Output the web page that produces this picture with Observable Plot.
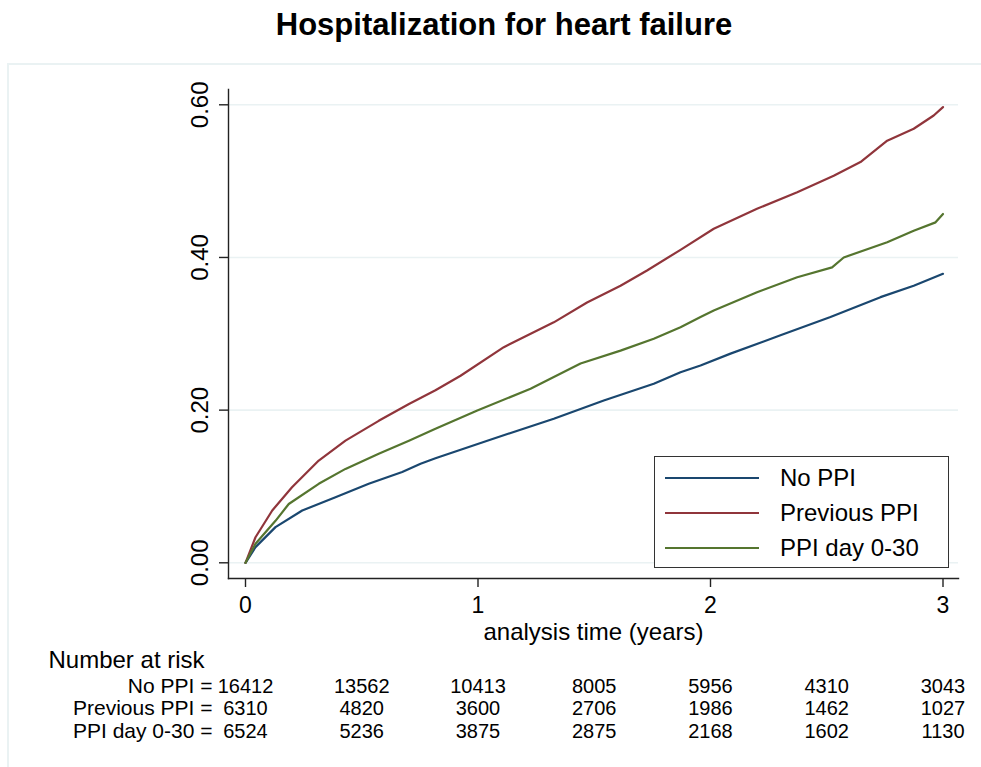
<!DOCTYPE html>
<html>
<head>
<meta charset="utf-8">
<script src="https://cdn.jsdelivr.net/npm/d3@7"></script>
<script src="https://cdn.jsdelivr.net/npm/@observablehq/plot@0.6"></script>
<style>
  html, body { margin: 0; padding: 0; background: #fff; }
  body { width: 981px; height: 767px; position: relative; overflow: hidden; font-family: "Liberation Sans", Arial, sans-serif; }
  #title { position: absolute; top: 1px; left: 0; width: 1008px; height: 48px; line-height: 48px; text-align: center; font-weight: bold; font-size: 31px; color: #000; }
  #outer { position: absolute; left: 7px; top: 63px; width: 990px; height: 720px; border-top: 2px solid #eaf2f3; border-left: 2px solid #eaf2f3; }
  #chart { position: absolute; left: 0; top: 64px; }
  #legend { position: absolute; left: 654px; top: 456px; width: 293px; height: 110px; border: 1.5px solid #333; background: #fff; }
  .item { position: absolute; left: 0; height: 30px; width: 293px; }
  .item .ln { position: absolute; left: 10px; width: 94px; height: 2px; top: 14px; }
  .item .tx { position: absolute; left: 125px; top: 0; line-height: 30px; font-size: 24px; color: #000; white-space: nowrap; }
</style>
</head>
<body>
<div id="title">Hospitalization for heart failure</div>
<div id="outer"></div>
<div id="chart"></div>
<div id="legend"></div>
<script>
// ---- data ----
const groups = ["No PPI", "Previous PPI", "PPI day 0-30"];
const colors = ["#1a476f", "#90353b", "#55752f"];

const noPpiTime  = [0, 0.043, 0.129, 0.244, 0.387, 0.53, 0.674, 0.753, 0.817, 1.04, 1.326, 1.541, 1.756, 1.871, 1.957, 2.086, 2.301, 2.516, 2.731, 2.874, 3.0];
const noPpiValue = [0, 0.0205, 0.0467, 0.0685, 0.086, 0.1035, 0.119, 0.1297, 0.137, 0.160, 0.1887, 0.2126, 0.2345, 0.2497, 0.2585, 0.274, 0.298, 0.322, 0.348, 0.363, 0.3786];

const prevPpiTime  = [0, 0.043, 0.115, 0.2, 0.315, 0.43, 0.573, 0.703, 0.817, 0.925, 1.111, 1.326, 1.469, 1.613, 1.727, 1.871, 2.014, 2.2, 2.373, 2.53, 2.645, 2.76, 2.874, 2.96, 3.0];
const prevPpiValue = [0, 0.0335, 0.0685, 0.099, 0.134, 0.160, 0.186, 0.208, 0.226, 0.245, 0.2825, 0.315, 0.341, 0.363, 0.383, 0.410, 0.4376, 0.4638, 0.4855, 0.507, 0.525, 0.553, 0.5686, 0.586, 0.597];

const earlyPpiTime  = [0, 0.043, 0.129, 0.186, 0.315, 0.43, 0.573, 0.703, 0.817, 0.997, 1.226, 1.441, 1.613, 1.756, 1.871, 1.957, 2.014, 2.2, 2.373, 2.523, 2.573, 2.76, 2.874, 2.968, 3.0];
const earlyPpiValue = [0, 0.025, 0.055, 0.077, 0.1035, 0.123, 0.143, 0.160, 0.1755, 0.1995, 0.228, 0.261, 0.278, 0.2935, 0.3087, 0.322, 0.3305, 0.3545, 0.374, 0.387, 0.400, 0.420, 0.435, 0.446, 0.457];

const xTicks = [0, 1, 2, 3];
const yTicks = [0, 0.2, 0.4, 0.6];

const riskTimes = [0, 0.5, 1, 1.5, 2, 2.5, 3];
const riskNoPpi = [16412, 13562, 10413, 8005, 5956, 4310, 3043];
const riskPrevPpi = [6310, 4820, 3600, 2706, 1986, 1462, 1027];
const riskEarlyPpi = [6524, 5236, 3875, 2875, 2168, 1602, 1130];

const title = "Hospitalization for heart failure";
const xTitle = "analysis time (years)";
const riskTitle = "Number at risk";

// ---- build tables ----
const series = [
  [noPpiTime, noPpiValue],
  [prevPpiTime, prevPpiValue],
  [earlyPpiTime, earlyPpiValue]
];
const curve = series.flatMap(([ts, vs], gi) => ts.map((t, i) => ({group: groups[gi], t, v: vs[i]})));
const riskRows = [riskNoPpi, riskPrevPpi, riskEarlyPpi];
const rowDy = [108, 130, 153];

const axisColor = "#222";

const chart = Plot.plot({
  width: 981,
  height: 703,
  marginLeft: 228,
  marginRight: 23,
  marginTop: 25,
  marginBottom: 189,
  x: {domain: [0, 3], range: [245, 942.5]},
  y: {domain: [0, 0.6], range: [498.3, 40.3]},
  color: {domain: groups, range: colors},
  style: {fontFamily: "'Liberation Sans', Arial, sans-serif", background: "transparent", overflow: "visible", color: "#000"},
  marks: [
    Plot.gridY(yTicks, {stroke: "#eaf2f3", strokeOpacity: 1, strokeWidth: 1.6}),
    Plot.frame({anchor: "left", stroke: axisColor, strokeWidth: 1.4}),
    Plot.frame({anchor: "bottom", stroke: axisColor, strokeWidth: 1.4}),
    Plot.axisY(yTicks, {tickSize: 9, tickFormat: () => "", label: null, stroke: axisColor, strokeWidth: 1.4}),
    Plot.text(yTicks, {y: d => d, text: d => d3.format(".2f")(d), frameAnchor: "left", textAnchor: "middle", lineAnchor: "middle", dx: -28, rotate: -90, fontSize: 24, fill: "#000"}),
    Plot.axisX(xTicks, {tickSize: 9, tickPadding: 9, tickFormat: d3.format("d"), fontSize: 23, label: null, stroke: axisColor, strokeWidth: 1.4, fill: "#000"}),
    Plot.text([xTitle], {text: d => d, frameAnchor: "bottom", lineAnchor: "middle", dy: 54, fontSize: 24, fill: "#000"}),
    Plot.line(curve, {x: "t", y: "v", z: "group", stroke: "group", strokeWidth: 2.2, curve: "linear"}),
    Plot.text([riskTitle], {text: d => d, frameAnchor: "bottom-left", lineAnchor: "middle", dx: -180, dy: 82, textAnchor: "start", fontSize: 24, fill: "#000"}),
    ...groups.map((g, gi) => Plot.text([g + " ="], {text: d => d, frameAnchor: "bottom-left", lineAnchor: "middle", dx: -16, dy: rowDy[gi], textAnchor: "end", fontSize: 21, fill: "#000"})),
    ...riskRows.map((row, gi) => Plot.text(riskTimes, {x: d => d, text: (d, i) => String(row[i]), frameAnchor: "bottom", lineAnchor: "middle", textAnchor: "middle", dy: rowDy[gi], fontSize: 20, fill: "#000"}))
  ]
});
document.getElementById("chart").appendChild(chart);

// legend
const legend = document.getElementById("legend");
const legendTops = [6, 41, 76];
groups.forEach((g, i) => {
  const item = document.createElement("div");
  item.className = "item";
  item.style.top = legendTops[i] + "px";
  const ln = document.createElement("div");
  ln.className = "ln";
  ln.style.background = colors[i];
  const tx = document.createElement("div");
  tx.className = "tx";
  tx.textContent = g;
  item.appendChild(ln);
  item.appendChild(tx);
  legend.appendChild(item);
});
</script>
</body>
</html>
